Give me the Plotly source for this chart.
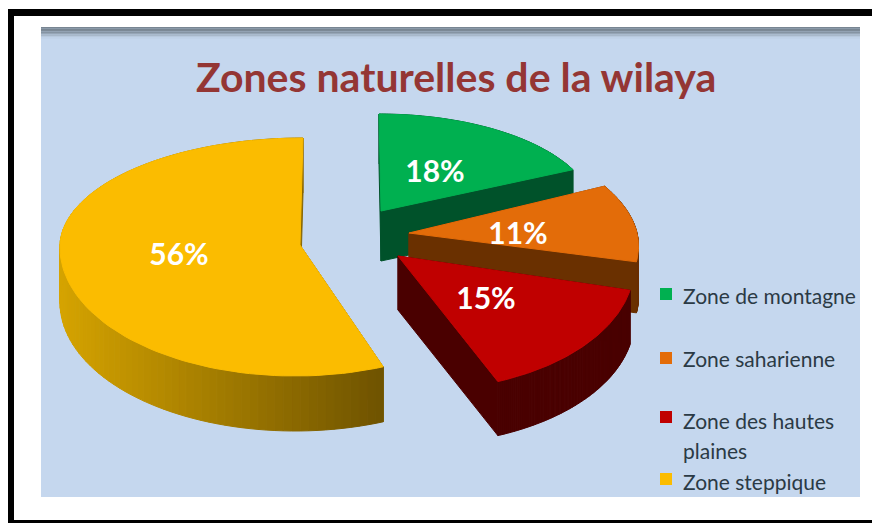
import numpy as np
import plotly.graph_objects as go

TITLE = "Zones naturelles de la wilaya"
CATEGORIES = ["Zone de montagne", "Zone saharienne", "Zone des hautes plaines", "Zone steppique"]
SHARES = [18, 11, 15, 56]
LEGEND_LINES = [["Zone de montagne"], ["Zone saharienne"], ["Zone des hautes", "plaines"], ["Zone steppique"]]

TOP_COLORS = ["#00B050", "#E36C09", "#C00000", "#FBBC00"]
WALL_COLORS = ["#00522A", "#6A3000", "#4A0000", None]
WALL_LEFT = np.array([214, 164, 0])
WALL_RIGHT = np.array([112, 84, 0])

# exploded 3D look: each slice has its own apex, radii, lean and depth, in page pixels
APEX = [(381, 211), (409, 233), (398, 256), (300, 245)]
ARC_CX = [381, 413, 398, 299]
ARC_CY = [211, 233, 257, 245]
RX = [213, 224, 236, 239]
RY_UP = [97, 110, 120, 107]
RY_DOWN = [97, 116, 134, 131]
LEAN = [-2, -26, -14, 4]
DEPTH = [50, 51, 54, 55]
LABEL_POS = [(435, 174), (518, 236), (486, 301), (179, 257)]
LEGEND_Y = [295, 358, 420, 481]
SWATCH_Y = [294, 358, 417, 479]


def slice_outline(start, end, i):
    theta = np.linspace(start, end, 100)
    ry = np.where(np.cos(theta) >= 0, RY_UP[i], RY_DOWN[i])
    x = ARC_CX[i] + RX[i] * np.sin(theta) + LEAN[i] * np.cos(theta)
    y = ARC_CY[i] - ry * np.cos(theta)
    return np.r_[APEX[i][0], x, APEX[i][0]], np.r_[APEX[i][1], y, APEX[i][1]]


def polygon(x, y, color):
    return go.Scatter(x=list(x), y=list(y), mode="lines", fill="toself", fillcolor=color,
                      line=dict(color=color, width=1), hoverinfo="skip", showlegend=False)


fig = go.Figure()

# slices run clockwise from 12 o'clock
edges = np.r_[0, np.cumsum(SHARES)] / sum(SHARES) * 2 * np.pi
for i, color in enumerate(TOP_COLORS):
    x, y = slice_outline(edges[i], edges[i + 1], i)
    left, span = x.min(), x.max() - x.min()
    for k in range(len(x) - 1):
        wall = WALL_COLORS[i]
        if wall is None:
            # last slice wall has a left to right shading
            wall = "rgb(%d,%d,%d)" % tuple(WALL_LEFT + (WALL_RIGHT - WALL_LEFT) * (x[k] - left) / span)
        fig.add_trace(polygon([x[k], x[k + 1], x[k + 1], x[k], x[k]],
                              [y[k], y[k + 1], y[k + 1] + DEPTH[i], y[k] + DEPTH[i], y[k]], wall))
    fig.add_trace(polygon(x, y, color))

fig.add_trace(go.Scatter(x=[p[0] for p in LABEL_POS], y=[p[1] for p in LABEL_POS], mode="text",
                         text=[f"{v}%" for v in SHARES], textposition="middle center",
                         textfont=dict(family="Lato", size=30, color="white", weight="bold"),
                         hoverinfo="skip", showlegend=False))
fig.add_trace(go.Scatter(x=[666] * 4, y=SWATCH_Y, mode="markers",
                         marker=dict(symbol="square", size=12, color=TOP_COLORS),
                         hoverinfo="skip", showlegend=False))

annotations = [dict(x=456, y=76, text=TITLE, showarrow=False, xanchor="center", yanchor="middle",
                    font=dict(family="Lato", size=41, color="#943634", weight="bold"))]
for lines, y0 in zip(LEGEND_LINES, LEGEND_Y):
    for j, line in enumerate(lines):
        annotations.append(dict(x=681, y=y0 + j * 30, text=line, showarrow=False, xanchor="left", yanchor="middle",
                                font=dict(family="Lato", size=21, color="#2B3A45")))

shapes = [
    dict(type="rect", x0=41, x1=860, y0=27, y1=497, fillcolor="#C5D7EE", line_width=0, layer="below"),
    dict(type="rect", x0=8, x1=14, y0=9, y1=523, fillcolor="black", line_width=0, layer="below"),
    dict(type="rect", x0=8, x1=872, y0=9, y1=16, fillcolor="black", line_width=0, layer="below"),
    dict(type="rect", x0=8, x1=872, y0=520, y1=523, fillcolor="black", line_width=0, layer="below"),
]
# shadow along the top of the panel
for k, shade in enumerate(["#788592", "#788592", "#7C8996", "#8594A3", "#96A5B6", "#A8B8CA", "#B8C9DE", "#C1D3EA"]):
    shapes.append(dict(type="rect", x0=41, x1=860, y0=27 + k * 1.5, y1=28.5 + k * 1.5, fillcolor=shade,
                       line_width=0, layer="below"))

fig.update_layout(
    width=872, height=523, margin=dict(l=0, r=0, t=0, b=0),
    paper_bgcolor="white", plot_bgcolor="white", showlegend=False,
    xaxis=dict(range=[0, 872], visible=False, fixedrange=True),
    yaxis=dict(range=[523, 0], visible=False, fixedrange=True),
    shapes=shapes, annotations=annotations,
)
fig.write_html("out.html", config=dict(displayModeBar=False),
               post_script="document.body.style.margin='0';document.documentElement.style.overflow='hidden';")
